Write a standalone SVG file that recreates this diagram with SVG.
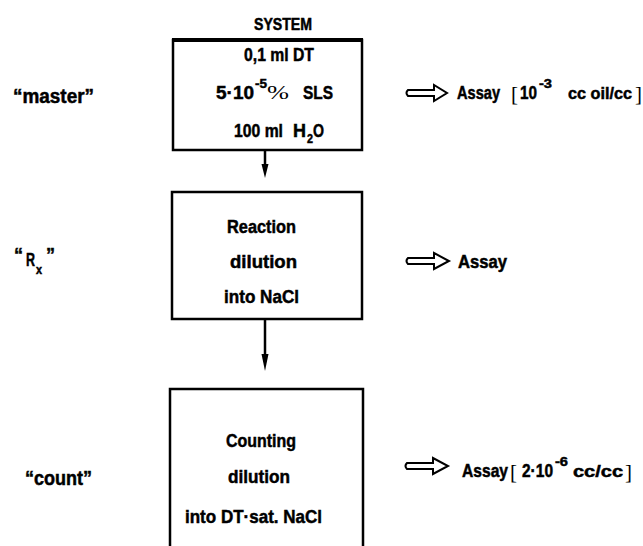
<svg xmlns="http://www.w3.org/2000/svg" width="643" height="546" viewBox="0 0 643 546">
<defs>
<style>
.t{font-family:"Liberation Sans","DejaVu Sans",sans-serif;font-weight:bold;fill:#000;stroke:#000;stroke-width:0.5;}
.n{font-family:"Liberation Serif","DejaVu Serif",serif;font-weight:normal;fill:#000;}
.box{fill:none;stroke:#000;stroke-width:2.5;}
.top{stroke:#000;stroke-width:4;}
.conn{stroke:#000;stroke-width:2.5;fill:none;}
.big{fill:#fff;stroke:#000;stroke-width:2;stroke-linejoin:miter;}
</style>
</defs>
<rect width="643" height="546" fill="#fff"/>

<g id="connectors">
<line class="conn" x1="265" y1="150" x2="265" y2="166"/>
<path d="M261.5,164 L268.5,164 L265,178 Z" fill="#000"/>
<line class="conn" x1="265" y1="319" x2="265" y2="356"/>
<path d="M261.5,354 L268.5,354 L265,371 Z" fill="#000"/>
</g>

<g id="system">
<text class="t" x="254" y="30" font-size="16" textLength="58" lengthAdjust="spacingAndGlyphs">SYSTEM</text>
<rect class="box" x="173" y="40" width="189" height="110"/>
<line class="top" x1="172" y1="40" x2="363" y2="40"/>
<text class="t" x="244" y="61" font-size="19" textLength="70" lengthAdjust="spacingAndGlyphs">0,1 ml DT</text>
<text class="t" x="216" y="99" font-size="19" textLength="38" lengthAdjust="spacingAndGlyphs">5·10</text>
<text class="t" x="255" y="88" font-size="13" textLength="12" lengthAdjust="spacingAndGlyphs">-5</text>
<text class="n" x="267" y="99" font-size="19" textLength="22" lengthAdjust="spacingAndGlyphs">%</text>
<text class="t" x="303" y="99" font-size="19" textLength="30" lengthAdjust="spacingAndGlyphs">SLS</text>
<text class="t" x="234" y="137" font-size="19" textLength="49" lengthAdjust="spacingAndGlyphs">100 ml</text>
<text class="t" x="293" y="137" font-size="19" textLength="13" lengthAdjust="spacingAndGlyphs">H</text>
<text class="t" x="307" y="143" font-size="13" textLength="6" lengthAdjust="spacingAndGlyphs">2</text>
<text class="t" x="313" y="137" font-size="19" textLength="11" lengthAdjust="spacingAndGlyphs">O</text>
</g>

<g id="reaction">
<rect class="box" x="172" y="192" width="190" height="127"/>
<text class="t" x="227" y="233" font-size="19" textLength="69" lengthAdjust="spacingAndGlyphs">Reaction</text>
<text class="t" x="230" y="268" font-size="19" textLength="67" lengthAdjust="spacingAndGlyphs">dilution</text>
<text class="t" x="224" y="303" font-size="19" textLength="75" lengthAdjust="spacingAndGlyphs">into NaCl</text>
</g>

<g id="counting">
<path class="box" d="M170,560 L170,389 L363,389 L363,560"/>
<text class="t" x="226" y="447" font-size="19" textLength="70" lengthAdjust="spacingAndGlyphs">Counting</text>
<text class="t" x="228" y="483" font-size="19" textLength="62" lengthAdjust="spacingAndGlyphs">dilution</text>
<text class="t" x="185" y="523" font-size="19" textLength="137" lengthAdjust="spacingAndGlyphs">into DT·sat. NaCl</text>
</g>

<g id="label-master">
<text class="t" x="13" y="103" font-size="20" textLength="81" lengthAdjust="spacingAndGlyphs">“master”</text>
</g>
<g id="label-rx">
<text class="t" x="14" y="262" font-size="20" textLength="9" lengthAdjust="spacingAndGlyphs">“</text>
<text class="t" x="26" y="266" font-size="19" textLength="9" lengthAdjust="spacingAndGlyphs">R</text>
<text class="t" x="36" y="274" font-size="12" textLength="6" lengthAdjust="spacingAndGlyphs">x</text>
<text class="t" x="46" y="262" font-size="20" textLength="9" lengthAdjust="spacingAndGlyphs">”</text>
</g>
<g id="label-count">
<text class="t" x="25" y="485" font-size="20" textLength="67" lengthAdjust="spacingAndGlyphs">“count”</text>
</g>

<g id="assay-1">
<path class="big" d="M408,90 L434,90 L434,85 L447,93 L434,101 L434,96 L408,96 Q405,93 408,90 Z"/>
<text class="t" x="457" y="99" font-size="18" textLength="43" lengthAdjust="spacingAndGlyphs">Assay</text>
<text class="n" x="511" y="101" font-size="22" textLength="7" lengthAdjust="spacingAndGlyphs">[</text>
<text class="t" x="520" y="99" font-size="18" textLength="17" lengthAdjust="spacingAndGlyphs">10</text>
<text class="t" x="539" y="88" font-size="13" textLength="13" lengthAdjust="spacingAndGlyphs">-3</text>
<text class="t" x="568" y="99" font-size="17" textLength="64" lengthAdjust="spacingAndGlyphs">cc oil/cc</text>
<text class="n" x="635" y="101" font-size="22" textLength="7" lengthAdjust="spacingAndGlyphs">]</text>
</g>

<g id="assay-2">
<path class="big" d="M408,258 L434,258 L434,253 L449,261 L434,269 L434,264 L408,264 Q405,261 408,258 Z"/>
<text class="t" x="458" y="268" font-size="18" textLength="49" lengthAdjust="spacingAndGlyphs">Assay</text>
</g>

<g id="assay-3">
<path class="big" d="M407,463 L433,463 L433,458 L448,466 L433,474 L433,469 L407,469 Q404,466 407,463 Z"/>
<text class="t" x="462" y="477" font-size="18" textLength="46" lengthAdjust="spacingAndGlyphs">Assay</text>
<text class="n" x="510" y="479" font-size="22" textLength="7" lengthAdjust="spacingAndGlyphs">[</text>
<text class="t" x="522" y="477" font-size="18" textLength="31" lengthAdjust="spacingAndGlyphs">2·10</text>
<text class="t" x="555" y="466" font-size="13" textLength="13" lengthAdjust="spacingAndGlyphs">-6</text>
<text class="t" x="573" y="477" font-size="17" textLength="50" lengthAdjust="spacingAndGlyphs">cc/cc</text>
<text class="n" x="625" y="479" font-size="22" textLength="7" lengthAdjust="spacingAndGlyphs">]</text>
</g>
</svg>
